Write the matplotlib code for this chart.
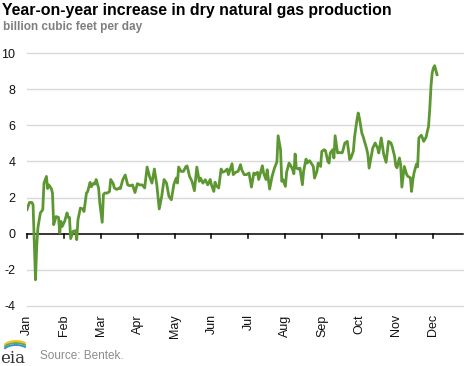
import matplotlib
matplotlib.use("Agg")
import matplotlib.pyplot as plt
import numpy as np
from matplotlib.patches import Arc

# ---- data (day index along a uniform 12-month axis, y-o-y increase in Bcf/d) ----
day = [0, 2, 4, 5, 7, 8, 9, 11, 13, 14, 16, 17, 18, 20, 21, 22, 24, 26, 27, 28,
       29, 31, 33, 34, 35, 36, 38, 40, 41, 42, 44, 46, 47, 49, 50, 52, 53, 55, 56, 57,
       59, 60, 62, 63, 64, 66, 68, 69, 71, 72, 74, 76, 77, 79, 81, 83, 85, 87, 89, 91,
       93, 95, 97, 99, 101, 103, 105, 107, 109, 111, 113, 115, 117, 119, 121, 123, 124, 125, 127, 129,
       131, 132, 134, 136, 138, 140, 142, 143, 145, 147, 149, 151, 152, 154, 155, 156, 158, 160, 161, 163,
       165, 166, 169, 170, 172, 174, 176, 177, 179, 181, 183, 185, 187, 188, 190, 191, 194, 195, 197, 198,
       200, 202, 204, 206, 207, 209, 210, 211, 213, 214, 216, 217, 219, 220, 221, 222, 224, 225, 227, 228,
       230, 231, 233, 235, 236, 237, 239, 240, 242, 243, 245, 246, 248, 249, 250, 252, 253, 254, 256, 257,
       259, 260, 262, 264, 266, 267, 269, 270, 272, 273, 274, 276, 277, 279, 280, 281, 282, 284, 285, 287,
       289, 290, 292, 294, 296, 298, 300, 301, 303, 304, 305, 307, 308, 309, 311, 313, 314, 316, 317, 318,
       319, 321, 322, 323, 325, 326, 327, 329, 330, 331, 332, 333, 334, 335, 336, 337, 338]
yoy = [1.33, 1.73, 1.73, 1.6, -2.55, -0.7, 0.33, 1.15, 1.33, 2.8, 3.17, 2.5, 2.7, 2.5, 2.25, 0.5, 0.95, 0.9, 0.05, 0.68,
       0.4, 0.68, 1.15, 0.9, 0.9, -0.27, 0.13, 0.17, -0.33, 0.77, 1.42, 1.37, 1.23, 2.25, 2.33, 2.84, 2.6, 2.8, 2.75, 3.0,
       2.53, 1.7, 0.63, 2.16, 2.25, 2.25, 2.33, 3.0, 2.78, 2.53, 2.45, 2.53, 2.5, 3.0, 3.25, 2.7, 2.65, 2.7, 2.28, 2.77,
       2.7, 2.7, 2.53, 3.69, 3.17, 2.8, 3.58, 2.71, 1.37, 2.06, 3.0, 2.8, 2.06, 1.88, 2.71, 3.08, 2.8, 3.69, 3.45, 3.45,
       3.72, 3.75, 3.17, 2.9, 2.38, 3.69, 2.9, 3.08, 2.8, 2.99, 2.7, 3.0, 2.71, 2.34, 2.85, 2.66, 2.53, 3.58, 3.4, 3.45,
       3.58, 3.27, 3.87, 3.27, 3.4, 3.45, 3.82, 3.54, 3.27, 3.27, 3.36, 2.58, 3.36, 3.27, 3.4, 3.0, 3.76, 3.36, 3.0, 3.54,
       2.47, 3.17, 3.63, 3.98, 5.42, 4.65, 2.9, 3.0, 2.62, 3.4, 3.91, 3.82, 3.54, 3.32, 4.41, 3.63, 3.58, 3.63, 2.71, 3.45,
       4.13, 3.91, 4.04, 3.82, 3.72, 3.08, 3.45, 3.91, 3.72, 4.56, 4.65, 4.6, 4.0, 3.91, 4.47, 4.65, 4.19, 5.42, 4.47, 4.5,
       4.47, 4.5, 5.02, 5.11, 4.1, 4.19, 4.56, 5.35, 6.31, 6.68, 6.4, 5.57, 5.39, 4.93, 4.69, 4.37, 3.63, 4.37, 4.74, 5.02,
       4.74, 4.47, 5.3, 4.4, 3.95, 5.11, 5.02, 4.83, 4.28, 3.76, 3.65, 4.19, 3.8, 2.58, 3.72, 3.27, 3.17, 3.1, 2.34, 2.95,
       3.36, 3.85, 3.7, 5.3, 5.45, 5.3, 5.11, 5.35, 5.66, 5.94, 6.9, 8.15, 8.9, 9.17, 9.3, 9.05, 8.8]
months = ["Jan", "Feb", "Mar", "Apr", "May", "Jun", "Jul", "Aug", "Sep", "Oct", "Nov", "Dec"]
yticks = [-4, -2, 0, 2, 4, 6, 8, 10]

TITLE = "Year-on-year increase in dry natural gas production"
SUBTITLE = "billion cubic feet per day"
SOURCE = "Source: Bentek."

W, H = 468, 366
plt.rcParams['font.family'] = ['Liberation Sans', 'DejaVu Sans']
fig = plt.figure(figsize=(W / 100, H / 100), dpi=100)

x0, x1 = 27, 463
y_top, y_bot = 53, 306
ax = fig.add_axes([x0 / W, (H - y_bot) / H, (x1 - x0) / W, (y_bot - y_top) / H])
month_len = 365 / 12
xmax = (x1 - x0) / 36.9 * month_len
ax.set_xlim(0, xmax)
ax.set_ylim(-4, 10)

for s in ax.spines.values():
    s.set_visible(False)

for v in yticks:
    if v == 0:
        continue
    ax.axhline(v, color="#d9d9d9", lw=1.0, clip_on=False, zorder=1)
ax.axhline(0, color="black", lw=1.1, clip_on=False, zorder=3)

ax.plot(day, yoy, color="#5d9732", lw=2.0, solid_joinstyle="round", zorder=4)

ax.set_yticks(yticks)
ax.set_yticklabels([str(v) for v in yticks], fontsize=9, color="#111111")
ax.tick_params(axis="y", length=0, pad=8.5)

# month ticks on the zero line
tickpos = [i * month_len for i in range(12)]
for t in tickpos:
    ax.plot([t, t], [0, -0.22], color="black", lw=1.1, clip_on=False, zorder=3)
ax.set_xticks(tickpos)
ax.set_xticklabels(months, rotation=90, fontsize=9, color="#111111", va="top", ha="center")
ax.tick_params(axis="x", length=0, pad=6)

fig.text(2 / W, 1 - 3 / H, TITLE, fontsize=11.4, fontweight="bold", color="black", va="top", ha="left")
fig.text(3 / W, 1 - 21 / H, SUBTITLE, fontsize=8.5, fontweight="bold", color="#7f7f7f", va="top", ha="left")
fig.text(40 / W, 1 - 356 / H, SOURCE, fontsize=8.5, color="#8c8c8c", va="center", ha="left")

# eia logo approximation
fig.text(0 / W, 1 - 363 / H, "eia", fontsize=12, color="#333333", va="baseline", ha="left",
         family=["DejaVu Serif"])
lax = fig.add_axes([0, 0, 1, 1], facecolor="none")
lax.set_xlim(0, W)
lax.set_ylim(0, H)
lax.axis("off")
for dy, c in [(0, "#f2c02e"), (-2, "#6aab3c"), (-4, "#3b8fd0")]:
    lax.add_patch(Arc((16, H - 348 + dy), 26, 14, theta1=25, theta2=165, color=c, lw=1.4))

fig.savefig("out.png", dpi=100)
